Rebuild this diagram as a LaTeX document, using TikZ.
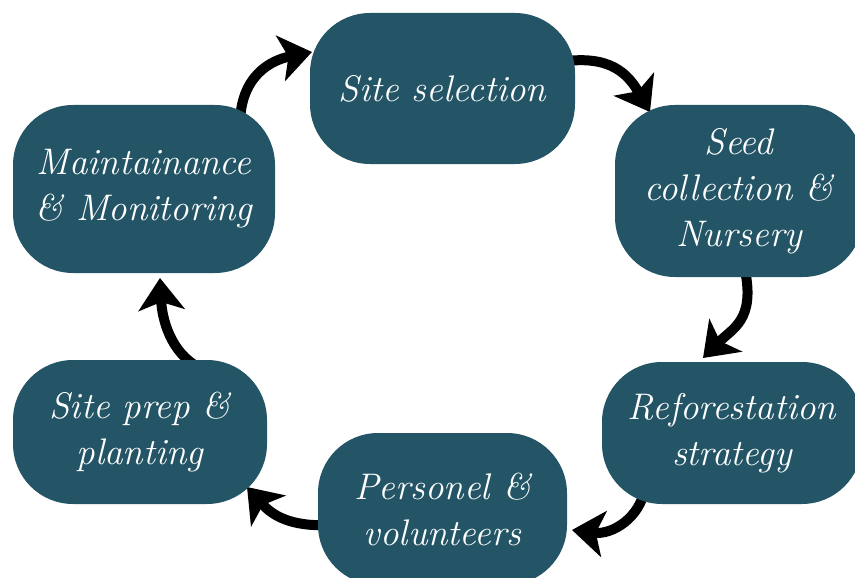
\documentclass[tikz,border=0pt]{standalone}
\usepackage{fontspec}
\usetikzlibrary{arrows.meta,backgrounds,calc}
\definecolor{boxteal}{RGB}{36,85,102}
\begin{document}
\begin{tikzpicture}[x=1pt,y=-1pt,
  box/.style={fill=boxteal, rounded corners=60pt, text=white,
    font=\fontsize{37}{46}\selectfont\itshape\addfontfeatures{FakeBold=0.8},
    align=center, inner sep=0pt},
  flow/.style={line width=10pt, draw=black,
    -{Stealth[length=32pt,width=46pt,inset=8pt]}}]
\useasboundingbox (0,0) rectangle (855,578);
\clip (0,0) rectangle (855,578);
\node[box, minimum width=265pt, minimum height=151pt] (n1) at (442.5,88.5) {Site selection};
\node[box, minimum width=248pt, minimum height=172pt] (n2) at (739,191) {Seed\\collection \&\\Nursery};
\node[box, minimum width=260pt, minimum height=142pt] (n3) at (732,433) {Reforestation\\strategy};
\node[box, minimum width=249pt, minimum height=152pt] (n4) at (442.5,509) {Personel \&\\volunteers};
\node[box, minimum width=254pt, minimum height=144pt] (n5) at (140,432) {Site prep \&\\planting};
\node[box, minimum width=262pt, minimum height=168pt] (n6) at (144,189) {Maintainance\\\& Monitoring};
\begin{pgfonlayer}{background}
\draw[flow] ($(n6.center)+(96,-64)$) .. controls +(0,-50) and +(-40,8) .. ($(n1.center)+(-130.5,-36.5)$);
\draw[flow] ($(n1.center)+(117.5,-26.5)$) .. controls +(50,-8) and +(-22,-38) .. ($(n2.center)+(-89,-79)$);
\draw[flow] ($(n2.center)+(6,79)$) .. controls +(10,50) and +(30,-30) .. ($(n3.center)+(-29,-75)$);
\draw[flow] ($(n3.center)+(-87,55)$) .. controls +(-5,30) and +(40,5) .. ($(n4.center)+(129.5,21)$);
\draw[flow] ($(n4.center)+(-112.5,16)$) .. controls +(-40,2) and +(25,28) .. ($(n5.center)+(107,55)$);
\draw[flow] ($(n5.center)+(60,-64)$) .. controls +(-30,-15) and +(2,40) .. ($(n6.center)+(16,89)$);
\end{pgfonlayer}
\end{tikzpicture}
\end{document}
